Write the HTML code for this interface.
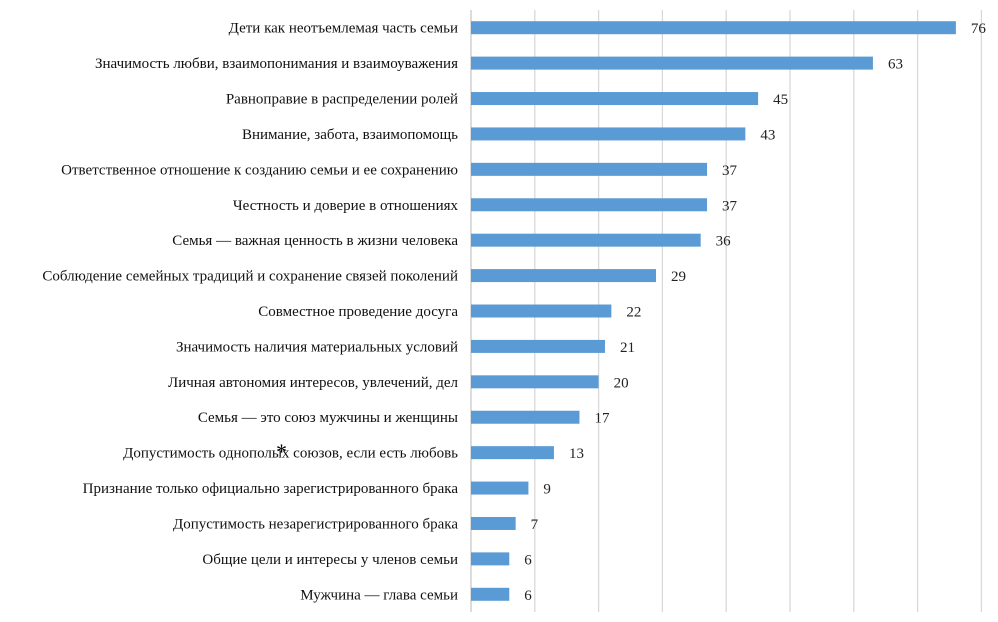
<!DOCTYPE html>
<html><head><meta charset="utf-8"><style>
body{margin:0;background:#fff;}
svg{display:block;font-family:"Liberation Serif",serif;}
</style></head><body>
<svg id="chart" width="998" height="622" xmlns="http://www.w3.org/2000/svg">
<g id="grid"></g>
<g id="bars"></g>
<g id="labels"></g>
<g id="values"></g>
<text x="276" y="459" font-size="22">*</text>
</svg>
<script>
const categories = [
"Дети как неотъемлемая часть семьи",
"Значимость любви, взаимопонимания и взаимоуважения",
"Равноправие в распределении ролей",
"Внимание, забота, взаимопомощь",
"Ответственное отношение к созданию семьи и ее сохранению",
"Честность и доверие в отношениях",
"Семья — важная ценность в жизни человека",
"Соблюдение семейных традиций и сохранение связей поколений",
"Совместное проведение досуга",
"Значимость наличия материальных условий",
"Личная автономия интересов, увлечений, дел",
"Семья — это союз мужчины и женщины",
"Допустимость однополых союзов, если есть любовь",
"Признание только официально зарегистрированного брака",
"Допустимость незарегистрированного брака",
"Общие цели и интересы у членов семьи",
"Мужчина — глава семьи"
];
const values = [76,63,45,43,37,37,36,29,22,21,20,17,13,9,7,6,6];
const gridTicks = [0,10,20,30,40,50,60,70,80];
(function(){
const NS="http://www.w3.org/2000/svg";
const x0=471, unit=6.38, plotTop=10, plotBottom=612;
const step=(plotBottom-plotTop)/categories.length;
const xs=v=>x0+v*unit;
const ys=i=>plotTop+step*(i+0.5);
function mk(t,a,p){const e=document.createElementNS(NS,t);for(const k in a)e.setAttribute(k,a[k]);p.appendChild(e);return e;}
const grid=document.getElementById('grid'),bars=document.getElementById('bars'),labels=document.getElementById('labels'),vals=document.getElementById('values');
gridTicks.forEach(t=>{
  const l=mk('line',{x1:xs(t),x2:xs(t),y1:plotTop,y2:plotBottom,stroke:t===0?'#c8c8c8':'#d9d9d9','stroke-width':1.3},grid);
  
  
});
categories.forEach((c,i)=>{
  const y=ys(i);
  const r=mk('rect',{x:xs(0),y:y-6.5,width:xs(values[i])-xs(0),height:13,fill:'#5b9bd5'},bars);
  
  
  const t=mk('text',{x:458,y:y+5,'text-anchor':'end','font-size':15,fill:'#111'},labels);
  t.textContent=c;
  
  
  const v=mk('text',{x:xs(values[i])+15,y:y+5.5,'font-size':15,fill:'#222'},vals);
  v.textContent=values[i];
  
  
});
})();
</script>
</body></html>
